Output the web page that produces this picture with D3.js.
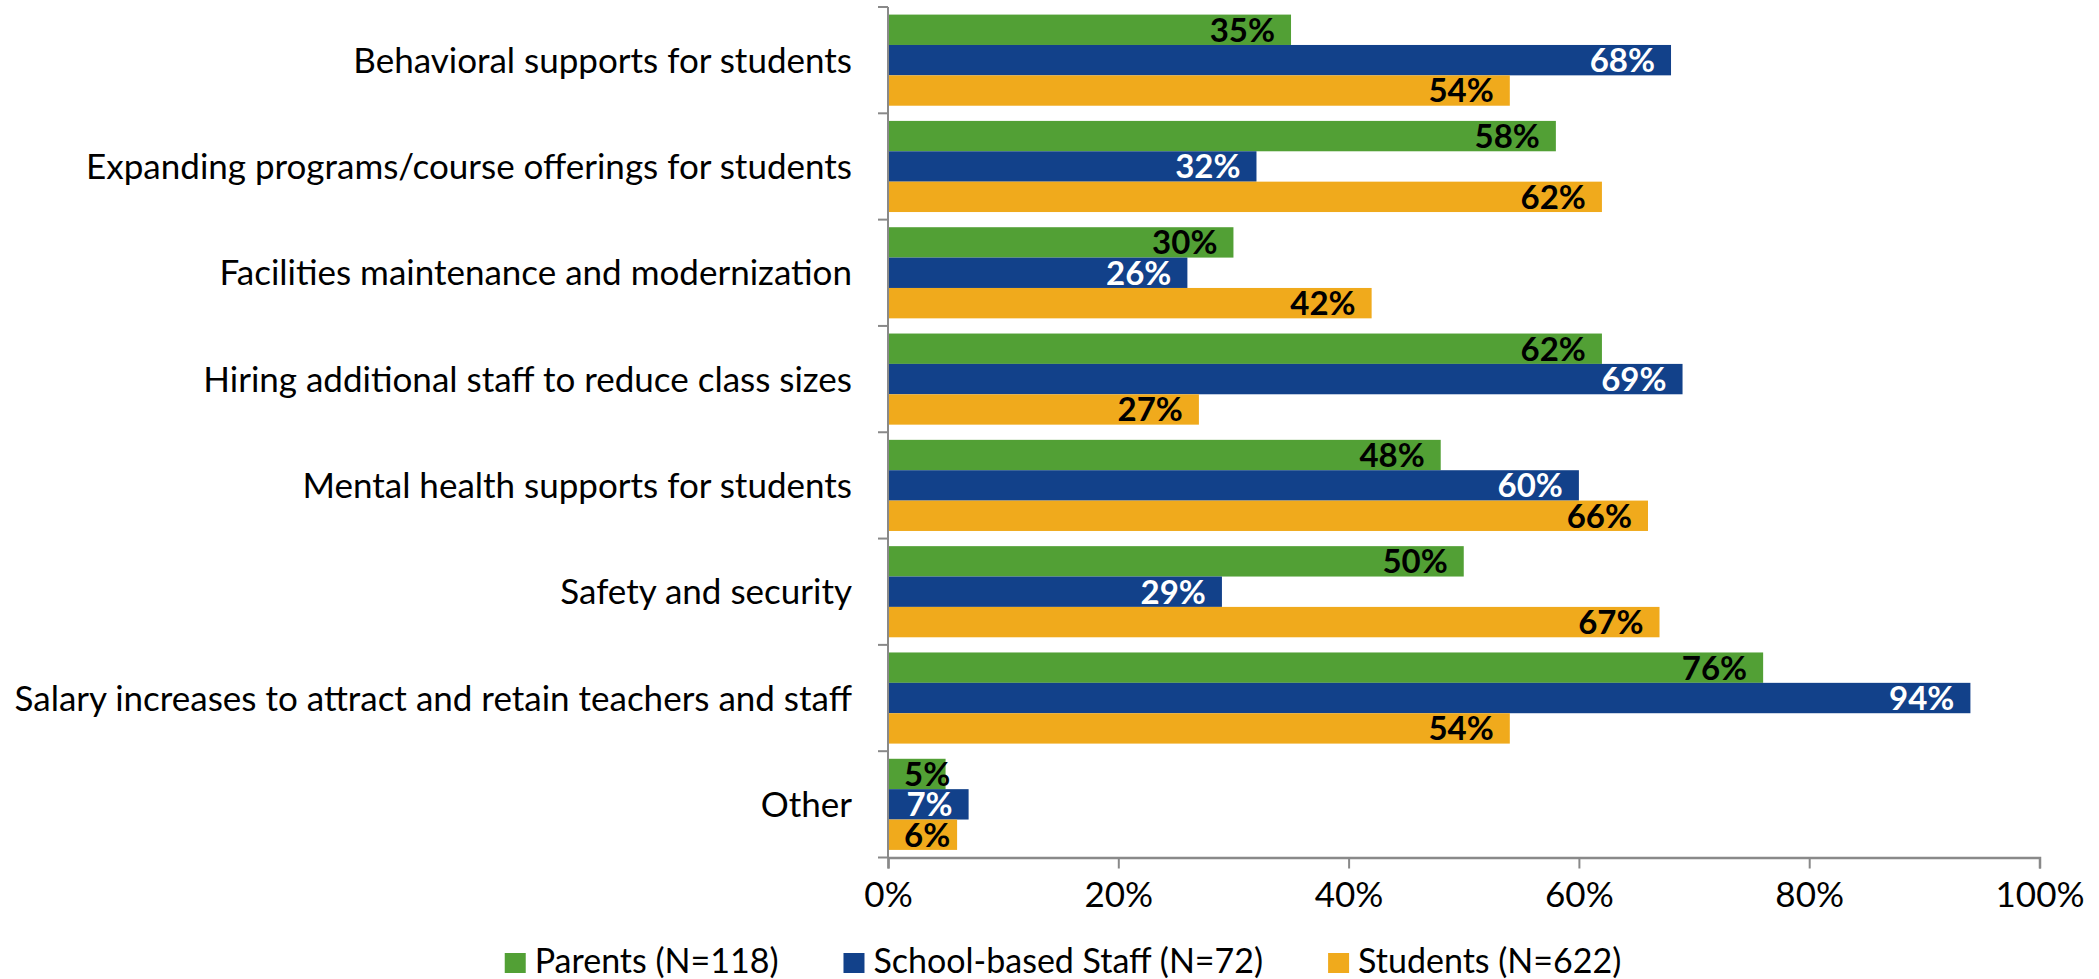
<!DOCTYPE html>
<html>
<head>
<meta charset="utf-8">
<script src="https://cdn.jsdelivr.net/npm/d3@7"></script>
<style>
  html, body { margin: 0; padding: 0; background: #fff; }
  svg text { font-family: Lato, "Open Sans", sans-serif; }
</style>
</head>
<body>
<div id="chart"></div>
<script>
// categories, top to bottom
const categories = [
  "Behavioral supports for students",
  "Expanding programs/course offerings for students",
  "Facilities maintenance and modernization",
  "Hiring additional staff to reduce class sizes",
  "Mental health supports for students",
  "Safety and security",
  "Salary increases to attract and retain teachers and staff",
  "Other"
];
const seriesNames = ["Parents (N=118)", "School-based Staff (N=72)", "Students (N=622)"];
const parents = [35, 58, 30, 62, 48, 50, 76, 5];
const staff = [68, 32, 26, 69, 60, 29, 94, 7];
const students = [54, 62, 42, 27, 66, 67, 54, 6];
const xTicks = [0, 20, 40, 60, 80, 100];

const colors = ["#52a035", "#12418a", "#f0aa1c"];
const labelColors = ["#000", "#fff", "#000"];
const axisGrey = "#898989";

const W = 2099, H = 979;
const plot = { left: 888, right: 2039.5, top: 7, bottom: 857.5 };
const fontSize = 35;
const labelSize = 33;
const legendSize = 34;

const svg = d3.select("#chart").append("svg")
  .attr("width", W).attr("height", H)
  .attr("viewBox", "0 0 " + W + " " + H);

const x = d3.scaleLinear().domain([0, 100]).range([plot.left, plot.right]);
const y = d3.scaleBand().domain(categories).range([plot.top, plot.bottom]).padding(0);
const ySub = d3.scaleBand().domain([0, 1, 2]).range([0, y.bandwidth()])
  .paddingInner(0).paddingOuter(0.25);

const seriesValues = [parents, staff, students];
const rows = [];
categories.forEach((c, i) => {
  seriesValues.forEach((vals, s) => rows.push({ cat: c, s: s, v: vals[i] }));
});

// bars
const gBars = svg.append("g").attr("id", "bars");
gBars.selectAll("rect")
  .data(rows)
  .enter()
  .append("rect")
  .attr("x", x(0))
  .attr("y", (d) => y(d.cat) + ySub(d.s))
  .attr("width", (d) => x(d.v) - x(0))
  .attr("height", ySub.bandwidth())
  .attr("fill", (d) => colors[d.s]);

// data labels, right aligned inside the bar end
const gLabels = svg.append("g").attr("id", "labels");
gLabels.selectAll("text")
  .data(rows)
  .enter()
  .append("text")
  .attr("y", (d) => y(d.cat) + ySub(d.s) + ySub.bandwidth() / 2)
  .attr("dy", "0.36em")
  .attr("text-anchor", "end")
  .attr("font-size", labelSize)
  .attr("font-weight", "bold")
  .attr("fill", (d) => labelColors[d.s])
  .text((d) => d.v + "%")
  .attr("x", function (d) {
    const w = this.getComputedTextLength();
    return Math.max(x(d.v) - 16, x(0) + 16 + w);
  });

// y axis with ticks between categories
const gY = svg.append("g").attr("id", "y-axis");
gY.append("line")
  .attr("x1", plot.left).attr("x2", plot.left)
  .attr("y1", plot.top).attr("y2", plot.bottom)
  .attr("stroke", axisGrey).attr("stroke-width", 2);
gY.selectAll(".ytick")
  .data(categories.concat(["_end"]))
  .enter()
  .append("line")
  .attr("class", "ytick")
  .attr("x1", plot.left - 10).attr("x2", plot.left)
  .attr("y1", (d, i) => plot.top + i * y.step())
  .attr("y2", (d, i) => plot.top + i * y.step())
  .attr("stroke", axisGrey).attr("stroke-width", 2);
gY.selectAll(".ylabel")
  .data(categories)
  .enter()
  .append("text")
  .attr("class", "ylabel")
  .attr("x", plot.left - 36)
  .attr("y", (d) => y(d) + y.bandwidth() / 2)
  .attr("dy", "0.36em")
  .attr("text-anchor", "end")
  .attr("font-size", fontSize)
  .attr("fill", "#000")
  .text((d) => d);

// x axis
const xAxis = d3.axisBottom(x)
  .tickValues(xTicks)
  .tickSize(11)
  .tickPadding(14)
  .tickFormat((d) => d + "%");
const gX = svg.append("g")
  .attr("id", "x-axis")
  .attr("transform", "translate(0," + plot.bottom + ")")
  .call(xAxis);
gX.select(".domain").attr("stroke", axisGrey).attr("stroke-width", 2.5);
gX.selectAll(".tick line").attr("stroke", axisGrey).attr("stroke-width", 2);
gX.selectAll(".tick text")
  .attr("font-size", fontSize)
  .attr("font-family", "Lato, 'Open Sans', sans-serif")
  .attr("fill", "#000");

// legend, laid out left to right and centred
const legend = svg.append("g").attr("id", "legend");
const items = legend.selectAll("g")
  .data(seriesNames)
  .enter()
  .append("g");
items.append("rect")
  .attr("width", 21).attr("height", 20)
  .attr("y", 953)
  .attr("fill", (d, i) => colors[i]);
items.append("text")
  .attr("x", 30)
  .attr("y", 973)
  .attr("font-size", legendSize)
  .attr("fill", "#000")
  .text((d) => d);
let cursor = 0;
items.each(function () {
  const g = d3.select(this);
  g.attr("transform", "translate(" + cursor + ",0)");
  cursor += 30 + g.select("text").node().getComputedTextLength() + 65;
});
const legendWidth = cursor - 65;
legend.attr("transform", "translate(" + (1063 - legendWidth / 2) + ",0)");
</script>
</body>
</html>
